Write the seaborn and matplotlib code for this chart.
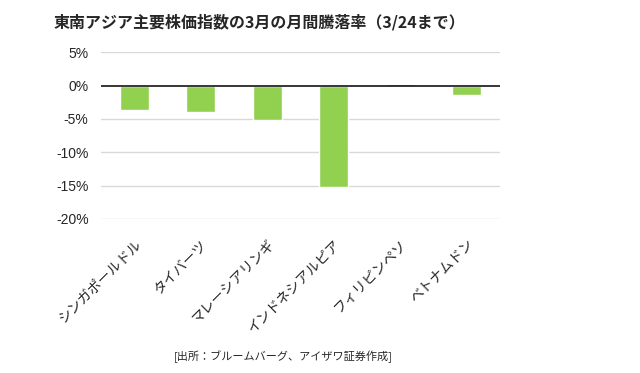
import numpy as np
import pandas as pd
import matplotlib
matplotlib.use("Agg")
import matplotlib.pyplot as plt
import seaborn as sns

# data
currencies = ["シンガポールドル", "タイバーツ", "マレーシアリンギ",
              "インドネシアルピア", "フィリピンペソ", "ベトナムドン"]
changes = [-3.7, -3.9, -5.1, -15.2, 0.25, -1.45]
yticks = [5, 0, -5, -10, -15, -20]

df = pd.DataFrame({"currency": currencies, "change": changes})

sns.set_theme(style="white")
plt.rcParams["font.family"] = ["Noto Sans CJK JP", "DejaVu Sans"]

fig = plt.figure(figsize=(6.4, 3.73), dpi=100)
ax = fig.add_axes([0.158, 0.413, 0.623, 0.447])

sns.barplot(data=df, x="currency", y="change", color="#92D050",
            width=0.44, saturation=1, ax=ax, zorder=3)

ax.set_xlim(-0.5, 5.5)
ax.set_ylim(-20, 5)
ax.set_yticks(yticks)
ax.set_yticklabels([f"{t}%" for t in yticks], family="Liberation Sans", fontsize=10)
for t in yticks:
    if t != 0:
        ax.axhline(t, color="#D9D9D9", lw=1, zorder=1)
ax.axhline(0, color="black", lw=1.1, zorder=4)

ax.set_xlabel("")
ax.set_ylabel("")
ax.tick_params(axis="both", length=0)
ax.tick_params(axis="x", pad=13)
ax.tick_params(axis="y", pad=9)
plt.setp(ax.get_xticklabels(), rotation=45, ha="right", rotation_mode="anchor", fontsize=10)
sns.despine(ax=ax, left=True, bottom=True)

fig.text(0.405, 0.94, "東南アジア主要株価指数の3月の月間騰落率（3/24まで）",
         ha="center", va="center", fontsize=11.5, fontweight="bold")
fig.text(0.442, 0.043, "[出所：ブルームバーグ、アイザワ証券作成]",
         ha="center", va="center", fontsize=8)

fig.savefig("out.png", dpi=100)
